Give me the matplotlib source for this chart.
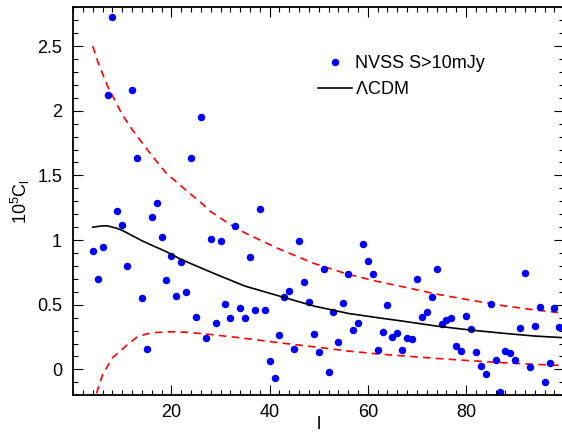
import matplotlib
matplotlib.use("Agg")
import matplotlib.pyplot as plt
from matplotlib.ticker import MultipleLocator, FuncFormatter

plt.rcParams['font.family'] = ['Liberation Sans', 'DejaVu Sans']
plt.rcParams['mathtext.fontset'] = 'custom'
plt.rcParams['mathtext.rm'] = 'Liberation Sans'

# Measured NVSS power spectrum points (multipole l, 10^5 C_l)
ell = list(range(4, 100))
cl = [0.915, 0.698, 0.948, 2.124, 2.725, 1.224, 1.116, 0.796, 2.163, 1.634,
      0.549, 0.160, 1.178, 1.284, 1.026, 0.691, 0.879, 0.565, 0.827, 0.600,
      1.634, 0.405, 1.949, 0.245, 1.010, 0.361, 0.990, 0.503, 0.397, 1.106,
      0.472, 0.397, 0.871, 0.456, 1.237, 0.456, 0.062, -0.070, 0.268, 0.561,
      0.603, 0.157, 0.990, 0.678, 0.520, 0.276, 0.131, 0.778, -0.018, 0.446,
      0.214, 0.515, 0.740, 0.304, 0.361, 0.967, 0.838, 0.737, 0.147, 0.291,
      0.497, 0.252, 0.281, 0.147, 0.245, 0.234, 0.696, 0.405, 0.446, 0.557,
      0.776, 0.353, 0.381, 0.399, 0.180, 0.139, 0.410, 0.309, 0.131, 0.026,
      -0.036, 0.503, 0.070, -0.178, 0.144, 0.128, 0.070, 0.317, 0.745, 0.020,
      0.333, 0.484, -0.096, 0.049, 0.476, 0.325]

# LCDM prediction
lcdm_l = [4, 5, 6, 7, 8, 9, 10, 12, 14, 16, 19, 22, 26, 29, 35, 42, 49, 56,
          62, 67, 74, 81, 88, 94, 100]
lcdm_c = [1.10, 1.105, 1.11, 1.11, 1.10, 1.09, 1.075, 1.035, 0.995, 0.96,
          0.91, 0.85, 0.785, 0.737, 0.644, 0.567, 0.49, 0.433, 0.40, 0.374,
          0.335, 0.304, 0.278, 0.258, 0.245]

# Upper / lower 1-sigma envelopes
up_l = [4, 5, 7, 10, 12, 16, 19, 23, 26, 28, 32, 35, 42, 49, 56, 62, 67, 74,
        81, 88, 94, 100]
up_c = [2.50, 2.38, 2.19, 1.97, 1.855, 1.655, 1.516, 1.385, 1.29, 1.22, 1.12,
        1.055, 0.93, 0.82, 0.735, 0.68, 0.64, 0.582, 0.535, 0.49, 0.46, 0.435]
lo_l = [4, 5, 6, 8, 11, 13, 15, 17, 20, 23, 26, 28, 35, 42, 49, 56, 62, 67,
        74, 81, 88, 94, 100]
lo_c = [-0.28, -0.155, -0.04, 0.09, 0.19, 0.25, 0.275, 0.286, 0.291, 0.287,
        0.278, 0.27, 0.24, 0.206, 0.175, 0.142, 0.12, 0.105, 0.085, 0.067,
        0.051, 0.039, 0.03]

xticks = [20, 40, 60, 80]
yticks = [0, 0.5, 1, 1.5, 2, 2.5]

fig = plt.figure(figsize=(5.62, 4.34), dpi=100)
ax = fig.add_axes([0.1302, 0.0892, 1.0041 - 0.1302, 0.9832 - 0.0892])

ax.plot(up_l, up_c, color='red', lw=1.2, dashes=(4.5, 3.2))
ax.plot(lo_l, lo_c, color='red', lw=1.2, dashes=(4.5, 3.2))
ax.plot(ell, cl, 'o', color='blue', ms=5.4, mew=0, label='NVSS S>10mJy')
ax.plot(lcdm_l, lcdm_c, color='black', lw=1.2, label=r'$\Lambda$CDM')

ax.set_xlim(0, 100)
ax.set_ylim(-0.2, 2.8)
ax.set_xticks(xticks)
ax.set_yticks(yticks)
ax.xaxis.set_minor_locator(MultipleLocator(2))
ax.yaxis.set_minor_locator(MultipleLocator(0.1))
ax.yaxis.set_major_formatter(FuncFormatter(lambda v, p: '%g' % v))
ax.tick_params(which='both', direction='in', top=True, right=True,
               labelsize=13, width=0.8)
ax.tick_params(which='major', length=7)
ax.tick_params(which='minor', length=3.6)
ax.tick_params(axis='x', pad=6.5)
ax.tick_params(axis='y', pad=8)
for s in ax.spines.values():
    s.set_linewidth(1.3)

ax.set_xlabel('l', fontsize=13, labelpad=-4)
ax.set_ylabel(r'$\mathregular{10^5C_l}$', fontsize=13, labelpad=4)

ax.legend(loc='upper left', bbox_to_anchor=(318 / 562, 1 - 55 / 434),
          bbox_transform=fig.transFigure, frameon=False, fontsize=13,
          handlelength=1.9, handletextpad=0.15, labelspacing=0.52,
          borderaxespad=0, borderpad=0, numpoints=1)

fig.savefig('out.png', dpi=100)
